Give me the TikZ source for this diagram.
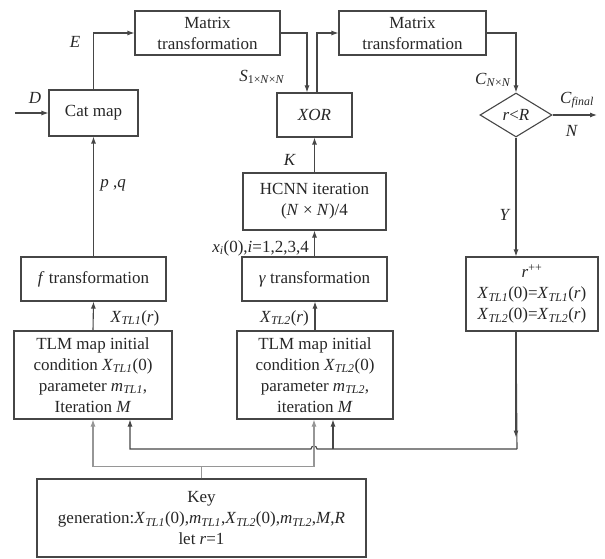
\documentclass[tikz,border=0pt]{standalone}
\usepackage{fontspec}
\setmainfont{Liberation Serif}
\usetikzlibrary{shapes, arrows.meta, positioning, calc}
\definecolor{linegray}{RGB}{70, 70, 70}
\definecolor{keygray}{RGB}{150, 150, 150}
\newcommand{\xtl}[1]{\textit{X}\textsubscript{\textit{TL#1}}}
\newcommand{\mtl}[1]{\textit{m}\textsubscript{\textit{TL#1}}}

\begin{document}
\begin{tikzpicture}[
  x=1pt, y=-1pt,
  blk/.style={draw=linegray, line width=1.1pt, align=center, inner sep=2pt, font=\fontsize{17}{21}\selectfont, text=black!85},
  ln/.style={draw=linegray, line width=1.1pt},
  arr/.style={ln, -{Latex[length=7pt, width=5pt]}},
  keyarr/.style={arr, draw=keygray},
  lbl/.style={font=\fontsize{17}{21}\selectfont, text=black!85, inner sep=1pt}
]
  \useasboundingbox (0,0) rectangle (605,559);

  % blocks
  \node[blk, minimum width=145pt, minimum height=44pt] (mat1) at (207.5,33) {Matrix\\transformation};
  \node[blk, minimum width=147pt, minimum height=44pt] (mat2) at (412.5,33) {Matrix\\transformation};
  \node[blk, minimum width=89pt, minimum height=46pt] (cat) at (93.5,113) {Cat map};
  \node[blk, minimum width=75pt, minimum height=44pt] (xor) at (314.5,115) {\textit{XOR}};
  \node[blk, shape=diamond, minimum width=72pt, minimum height=44pt, inner sep=0pt] (dia) at (516,115) {\textit{r}<\textit{R}};
  \node[blk, minimum width=143pt, minimum height=57pt] (hcnn) at (314.5,201.5) {HCNN iteration\\(\textit{N} × \textit{N})/4};
  \node[blk, minimum width=145pt, minimum height=44pt] (ftr) at (93.5,279) {\textit{f} transformation};
  \node[blk, minimum width=145pt, minimum height=44pt] (gtr) at (314.5,279) {\textit{γ} transformation};
  \node[blk, minimum width=132pt, minimum height=74pt] (rpp) at (532,294) {\textit{r}\textsuperscript{++}\\\xtl{1}(0)=\xtl{1}(\textit{r})\\\xtl{2}(0)=\xtl{2}(\textit{r})};
  \node[blk, minimum width=158pt, minimum height=88pt] (tlm1) at (93,375) {TLM map initial\\condition \xtl{1}(0)\\parameter \mtl{1},\\Iteration \textit{M}};
  \node[blk, minimum width=156pt, minimum height=88pt] (tlm2) at (315,375) {TLM map initial\\condition \xtl{2}(0)\\parameter \mtl{2},\\iteration \textit{M}};
  \node[blk, minimum width=329pt, minimum height=78pt] (key) at (201.5,518) {Key\\generation:\xtl{1}(0),\mtl{1},\xtl{2}(0),\mtl{2},\textit{M},\textit{R}\\let \textit{r}=1};

  \coordinate (din) at (15,113);
  \coordinate (cout) at (597,115);
  \coordinate (fb) at (517,449);

  % top row
  \draw[arr] (din) -- (cat.west);
  \draw[arr] (cat.north) |- (mat1.west);
  \draw[arr] (mat1.east) -| ([xshift=-7.5pt]xor.north);
  \draw[arr] ([xshift=2.5pt]xor.north) |- (mat2.west);
  \draw[arr] (mat2.east) -| (dia.north);
  \draw[arr] (dia.east) -- (cout);
  \draw[arr] (dia.south) -- (dia.south |- rpp.north);

  % middle columns
  \draw[arr] (ftr.north) -- (cat.south);
  \draw[arr] (tlm1.north) -- (ftr.south);
  \draw[arr] (hcnn.north) -- (xor.south);
  \draw[arr] (gtr.north) -- (gtr.north |- hcnn.south);
  \draw[arr] (tlm2.north) -- (tlm2.north |- gtr.south);

  % feedback from r++
  \draw[arr] (dia.south |- rpp.south) -- ++(0,106);
  \draw[ln] (dia.south |- rpp.south) -- (fb);
  \draw[arr] (fb) -- (317,449) arc[start angle=0, end angle=180, radius=3pt] -- ([xshift=37pt]tlm1.south |- fb) -- ([xshift=37pt]tlm1.south);
  \draw[arr] ([xshift=18pt]tlm2.south |- fb) -- ([xshift=18pt]tlm2.south);

  % key lines
  \draw[keyarr] (key.north) -- ++(0,-12) -| (tlm1.south);
  \draw[keyarr] (key.north) -- ++(0,-12) -| ([xshift=-1pt]tlm2.south);

  % labels
  \node[lbl] (lD) at (35,98) {\textit{D}};
  \node[lbl] (lE) at (75,42) {\textit{E}};
  \node[lbl] (lS) at (262,77) {\textit{S}\textsubscript{1×\textit{N}×\textit{N}}};
  \node[lbl] (lC) at (493,80) {\textit{C}\textsubscript{\textit{N}×\textit{N}}};
  \node[lbl] (lCf) at (577,100) {\textit{C}\textsubscript{\textit{final}}};
  \node[lbl] (lN) at (572,131) {\textit{N}};
  \node[lbl] (lK) at (290,160) {\textit{K}};
  \node[lbl] (lpq) at (113,185) {\textit{p} ,\textit{q}};
  \node[lbl, anchor=east] (lx) at (310,248) {\textit{x}\textsubscript{\textit{i}}(0),\textit{i}=1,2,3,4};
  \node[lbl] (lX1) at (135,318) {\xtl{1}(\textit{r})};
  \node[lbl, anchor=east] (lX2) at (310,318) {\xtl{2}(\textit{r})};
  \node[lbl] (lY) at (505,215) {\textit{Y}};
\end{tikzpicture}
\end{document}
